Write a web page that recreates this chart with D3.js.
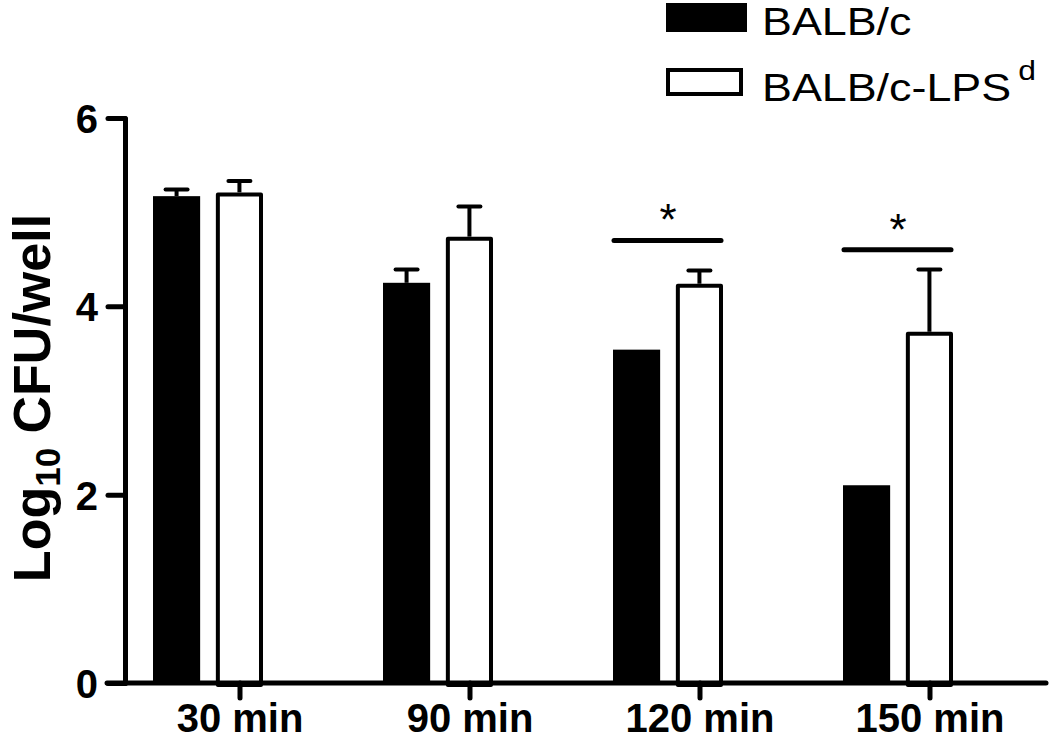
<!DOCTYPE html>
<html>
<head>
<meta charset="utf-8">
<script src="https://cdn.jsdelivr.net/npm/d3@7"></script>
<style>
  html, body { margin: 0; padding: 0; background: #fff; }
  svg { display: block; }
  text { font-family: "Liberation Sans", Arial, sans-serif; fill: #000; }
</style>
</head>
<body>
<svg id="chart" width="1050" height="741"></svg>
<script>
// ---- data ----
const categories = ["30 min", "90 min", "120 min", "150 min"];
const seriesNames = ["BALB/c", "BALB/c-LPS"];
const balbc = [5.17, 4.25, 3.54, 2.10];
const balbcErr = [0.07, 0.14, 0.0, 0.0];
const lpsd = [5.21, 4.74, 4.24, 3.73];
const lpsdErr = [0.12, 0.32, 0.14, 0.66];
const sigLevel = [null, null, 4.70, 4.60];
const yTicks = [0, 2, 4, 6];

const svg = d3.select("#chart");

const x = d3.scaleBand().domain(categories).range([125, 1045]);
const xSub = d3.scaleBand().domain(seriesNames).range([28, 138]).paddingInner(0.25);
const y = d3.scaleLinear().domain([0, 6]).range([683, 118]);

const rows = categories.map((c, i) => ({
  cat: c,
  vals: [
    { s: seriesNames[0], v: balbc[i], e: balbcErr[i] },
    { s: seriesNames[1], v: lpsd[i], e: lpsdErr[i] }
  ],
  sig: sigLevel[i]
}));

// ---- y axis ----
const yAxis = svg.append("g")
  .attr("transform", "translate(125,0)")
  .call(d3.axisLeft(y).tickValues(yTicks).tickFormat(d3.format("d"))
    .tickSize(17).tickPadding(10).tickSizeOuter(0));
yAxis.select(".domain").attr("stroke", "#000").attr("stroke-width", 5).attr("stroke-linecap", "round");
yAxis.selectAll(".tick line").attr("stroke", "#000").attr("stroke-width", 5).attr("stroke-linecap", "round");
yAxis.selectAll(".tick text")
  .attr("font-size", 40).attr("font-weight", "bold")
  .attr("font-family", "Liberation Sans, Arial, sans-serif").attr("fill", "#000")
  .attr("dy", "0.36em");

// ---- bars ----
const g = svg.append("g");
const grp = g.selectAll("g.grp").data(rows).join("g")
  .attr("class", "grp")
  .attr("transform", d => `translate(${x(d.cat)},0)`);

const sw = 4;
// error bars (upward only)
grp.selectAll("g.err").data(d => d.vals.filter(v => v.e > 0)).join("g").attr("class", "err")
  .each(function(d) {
    const cx = xSub(d.s) + xSub.bandwidth() / 2;
    const gg = d3.select(this);
    gg.append("line").attr("x1", cx).attr("x2", cx)
      .attr("y1", y(d.v)).attr("y2", y(d.v + d.e))
      .attr("stroke", "#000").attr("stroke-width", sw);
    gg.append("line").attr("x1", cx - 11).attr("x2", cx + 11)
      .attr("y1", y(d.v + d.e)).attr("y2", y(d.v + d.e))
      .attr("stroke", "#000").attr("stroke-width", sw).attr("stroke-linecap", "round");
  });

grp.selectAll("rect.bar").data(d => d.vals).join("rect")
  .attr("class", "bar")
  .attr("x", d => xSub(d.s) + (d.s === seriesNames[1] ? sw / 2 : 0))
  .attr("width", d => xSub.bandwidth() - (d.s === seriesNames[1] ? sw : 0))
  .attr("y", d => y(d.v) + (d.s === seriesNames[1] ? sw / 2 : 0))
  .attr("height", d => y(0) - y(d.v))
  .attr("fill", d => d.s === seriesNames[0] ? "#000" : "#fff")
  .attr("stroke", "#000")
  .attr("stroke-width", d => d.s === seriesNames[1] ? sw : 0)
  .attr("stroke-linejoin", "round");

// significance
const sigG = grp.filter(d => d.sig != null);
sigG.append("line")
  .attr("x1", xSub(seriesNames[0]) + 1)
  .attr("x2", xSub(seriesNames[1]) + xSub.bandwidth() - 2)
  .attr("y1", d => y(d.sig)).attr("y2", d => y(d.sig))
  .attr("stroke", "#000").attr("stroke-width", 5).attr("stroke-linecap", "round");
sigG.append("text")
  .attr("x", (xSub(seriesNames[0]) + xSub(seriesNames[1]) + xSub.bandwidth()) / 2)
  .attr("y", d => y(d.sig) - 5)
  .attr("text-anchor", "middle")
  .attr("font-size", 44)
  .text("*");

// ---- x axis ----
const xAxis = svg.append("g")
  .attr("transform", `translate(0,${y(0)})`)
  .call(d3.axisBottom(x).tickSize(15).tickPadding(6).tickSizeOuter(0));
xAxis.select(".domain").attr("stroke", "#000").attr("stroke-width", 5).attr("stroke-linecap", "round")
  .attr("d", "M107,0H1046");
xAxis.selectAll(".tick line").attr("stroke", "#000").attr("stroke-width", 5).attr("stroke-linecap", "round");
xAxis.selectAll(".tick text")
  .attr("font-size", 40).attr("font-weight", "bold")
  .attr("font-family", "Liberation Sans, Arial, sans-serif").attr("fill", "#000");

// ---- y title ----
const yt = svg.append("text")
  .attr("transform", "translate(50,398) rotate(-90)")
  .attr("text-anchor", "middle")
  .attr("font-size", 52).attr("font-weight", "bold");
yt.append("tspan").text("Log");
yt.append("tspan").attr("font-size", 35).attr("dy", 10).text("10");
yt.append("tspan").attr("dy", -10).text(" CFU/well");

// ---- legend ----
const leg = svg.append("g");
const legItems = [
  { name: seriesNames[0], fill: "#000", sup: null, rectY: 3, textY: 35 },
  { name: seriesNames[1], fill: "#fff", sup: "d", rectY: 70, textY: 101 }
];
const li = leg.selectAll("g").data(legItems).join("g");
li.append("rect")
  .attr("x", d => d.fill === "#000" ? 666 : 668)
  .attr("y", d => d.rectY)
  .attr("width", d => d.fill === "#000" ? 81 : 73)
  .attr("height", d => d.fill === "#000" ? 29 : 24)
  .attr("fill", d => d.fill)
  .attr("stroke", "#000").attr("stroke-width", d => d.fill === "#000" ? 0 : 4);
const lt = li.append("text")
  .attr("transform", d => `translate(762,${d.textY}) scale(1.18,1)`)
  .attr("font-size", 38);
lt.append("tspan").text(d => d.name);
lt.filter(d => d.sup).append("tspan").attr("font-size", 27).attr("dx", 6).attr("dy", -21).text(d => d.sup);
</script>
</body>
</html>
